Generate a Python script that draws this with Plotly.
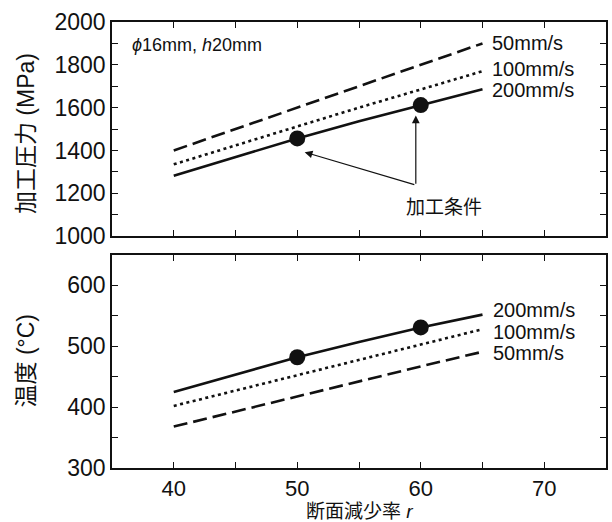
import plotly.graph_objects as go
from plotly.subplots import make_subplots

# Reduction ratio r (%)
r = [40, 45, 50, 55, 60, 65]

# Forming pressure (MPa) per ram speed
pressure_50 = [1400, 1500, 1600, 1700, 1800, 1900]
pressure_100 = [1335, 1425, 1512, 1600, 1686, 1770]
pressure_200 = [1282, 1370, 1456, 1536, 1612, 1686]

# Temperature (deg C) per ram speed
temp_200 = [425, 454, 482, 507, 531, 552]
temp_100 = [402, 427, 453, 478, 503, 528]
temp_50 = [368, 393, 418, 442, 467, 491]

# Chosen processing conditions (200 mm/s)
cond_r = [50, 60]
cond_pressure = [1456, 1612]
cond_temp = [482, 531]

speed_labels = ["50mm/s", "100mm/s", "200mm/s"]

x_tickvals = [40, 45, 50, 55, 60, 65, 70]
x_ticktext = ["40", "", "50", "", "60", "", "70"]
p_tickvals = [1000, 1100, 1200, 1300, 1400, 1500, 1600, 1700, 1800, 1900, 2000]
p_ticktext = ["1000", "", "1200", "", "1400", "", "1600", "", "1800", "", "2000"]
t_tickvals = [300, 350, 400, 450, 500, 550, 600]
t_ticktext = ["300", "", "400", "", "500", "", "600"]

FONT = "Liberation Sans, Arial, Noto Sans CJK JP"
BLACK = "#111111"

fig = make_subplots(rows=2, cols=1, shared_xaxes=False, vertical_spacing=0.0426)

dash_long = "14px,6px"
dash_dot = "3px,3.5px"
lw = 2.6

# Pressure panel
fig.add_trace(go.Scatter(x=r, y=pressure_50, mode="lines",
                         line=dict(color=BLACK, width=lw, dash=dash_long)), row=1, col=1)
fig.add_trace(go.Scatter(x=r, y=pressure_100, mode="lines",
                         line=dict(color=BLACK, width=lw, dash=dash_dot)), row=1, col=1)
fig.add_trace(go.Scatter(x=r, y=pressure_200, mode="lines",
                         line=dict(color=BLACK, width=lw)), row=1, col=1)
fig.add_trace(go.Scatter(x=cond_r, y=cond_pressure, mode="markers",
                         marker=dict(color=BLACK, size=16)), row=1, col=1)

# Temperature panel
fig.add_trace(go.Scatter(x=r, y=temp_200, mode="lines",
                         line=dict(color=BLACK, width=lw)), row=2, col=1)
fig.add_trace(go.Scatter(x=r, y=temp_100, mode="lines",
                         line=dict(color=BLACK, width=lw, dash=dash_dot)), row=2, col=1)
fig.add_trace(go.Scatter(x=r, y=temp_50, mode="lines",
                         line=dict(color=BLACK, width=lw, dash=dash_long)), row=2, col=1)
fig.add_trace(go.Scatter(x=cond_r, y=cond_temp, mode="markers",
                         marker=dict(color=BLACK, size=16)), row=2, col=1)

axis_common = dict(showline=True, linecolor=BLACK, linewidth=1.6, mirror="allticks",
                   ticks="inside", ticklen=6, tickwidth=1.4, tickcolor=BLACK,
                   showgrid=False, zeroline=False,
                   tickfont=dict(family=FONT, size=23, color=BLACK))

fig.update_xaxes(range=[35, 75], tickmode="array", tickvals=x_tickvals,
                 ticktext=x_ticktext, **axis_common)
fig.update_xaxes(showticklabels=False, row=1, col=1)
fig.update_xaxes(tickfont=dict(family=FONT, size=22, color=BLACK), row=2, col=1)
fig.update_yaxes(range=[1000, 2000], tickmode="array", tickvals=p_tickvals,
                 ticktext=p_ticktext, row=1, col=1, **axis_common)
fig.update_yaxes(range=[300, 650], tickmode="array", tickvals=t_tickvals,
                 ticktext=t_ticktext, row=2, col=1, **axis_common)

fig.update_layout(yaxis=dict(domain=[0.520, 1.0]), yaxis2=dict(domain=[0.0, 0.4776]))

ann = []
label_font = dict(family=FONT, size=20, color=BLACK)

# Speed labels next to line ends
top_label_y = [1902, 1782, 1683]
for txt, yv in zip(speed_labels, top_label_y):
    ann.append(dict(x=65.6, y=yv, xref="x", yref="y", text=txt, showarrow=False,
                    xanchor="left", yanchor="middle", font=label_font))
bot_label_y = [489, 524, 560]
for txt, yv in zip(speed_labels, bot_label_y):
    ann.append(dict(x=65.7, y=yv, xref="x2", yref="y2", text=txt, showarrow=False,
                    xanchor="left", yanchor="middle", font=label_font))

# Specimen size note
ann.append(dict(x=0.036, y=0.893, xref="x domain", yref="y domain",
                text="<i>ϕ</i>16mm, <i>h</i>20mm", showarrow=False,
                xanchor="left", yanchor="middle",
                font=dict(family=FONT, size=18, color=BLACK)))

# Processing-condition callout with arrows
ann.append(dict(x=61.9, y=1135, xref="x", yref="y", text="加工条件", showarrow=False,
                xanchor="center", yanchor="middle",
                font=dict(family=FONT, size=19, color=BLACK)))
for hx, hy in [(50.6, 1392), (59.6, 1563)]:
    ann.append(dict(x=hx, y=hy, xref="x", yref="y", ax=59.6, ay=1238,
                    axref="x", ayref="y", text="", showarrow=True,
                    arrowhead=2, arrowsize=1.3, arrowwidth=1.2, arrowcolor=BLACK))

# Axis titles
title_font = dict(family=FONT, size=23, color=BLACK)
ann.append(dict(x=-0.175, y=0.750, xref="paper", yref="paper", text="加工圧力 (MPa)",
                textangle=-90, showarrow=False, xanchor="center", yanchor="middle",
                font=title_font))
ann.append(dict(x=-0.175, y=0.240, xref="paper", yref="paper", text="温度 (°C)",
                textangle=-90, showarrow=False, xanchor="center", yanchor="middle",
                font=title_font))
ann.append(dict(x=0.502, y=-0.124, xref="paper", yref="paper", text="断面減少率 <i>r</i>",
                showarrow=False, xanchor="center", yanchor="bottom", borderpad=0,
                font=dict(family=FONT, size=19, color=BLACK)))

fig.update_layout(
    width=612, height=522,
    margin=dict(l=112, r=4, t=22, b=54),
    paper_bgcolor="white", plot_bgcolor="white",
    showlegend=False,
    annotations=ann,
    font=dict(family=FONT, color=BLACK),
)

fig.write_html("out.html")
